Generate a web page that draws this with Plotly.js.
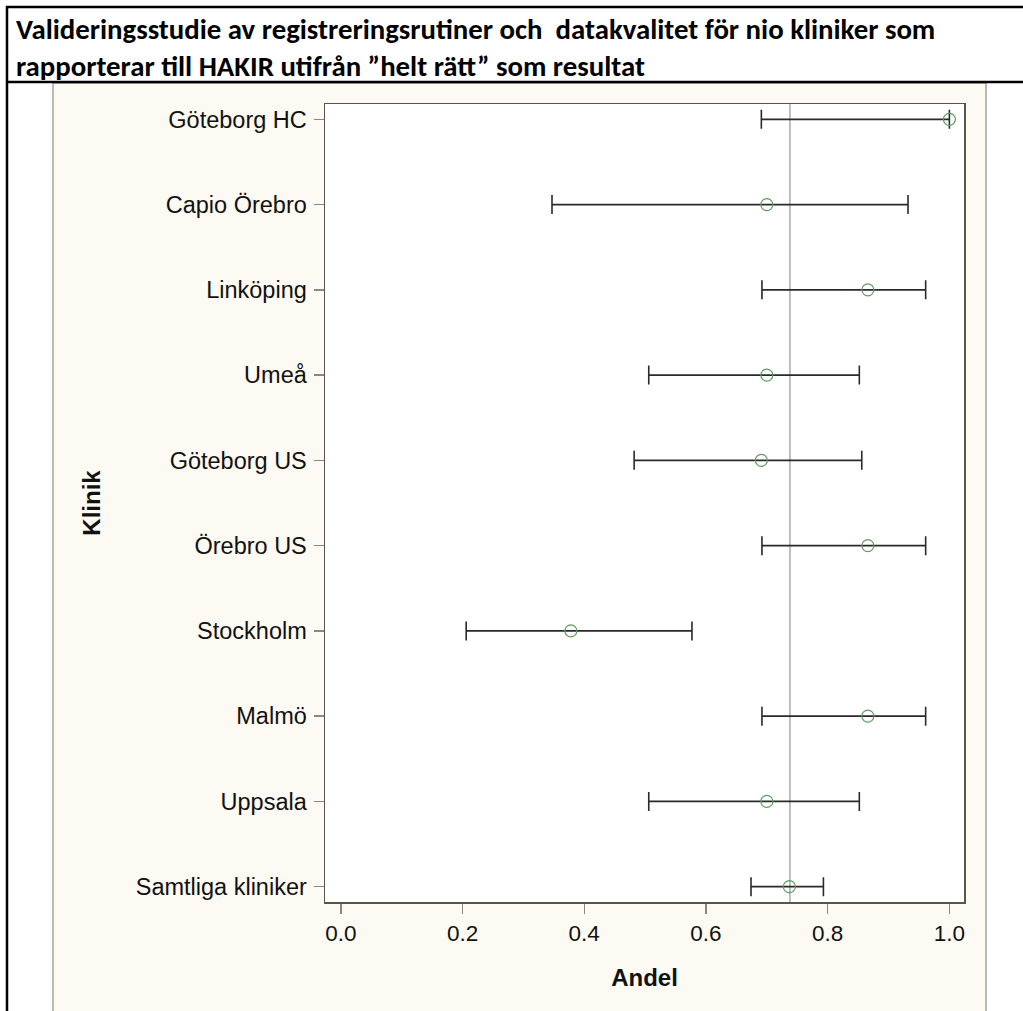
<!DOCTYPE html>
<html>
<head>
<meta charset="utf-8">
<script src="https://cdn.plot.ly/plotly-3.0.1.min.js"></script>
<style>
html,body{margin:0;padding:0;background:#fff;}
#chart{width:1023px;height:1011px;}
</style>
</head>
<body>
<div id="chart"></div>
<script>
// Categories, top to bottom as drawn
const clinics = ["Göteborg HC","Capio Örebro","Linköping","Umeå","Göteborg US","Örebro US","Stockholm","Malmö","Uppsala","Samtliga kliniker"];
// Proportion "helt rätt" and confidence limits
const andel  = [1.000, 0.700, 0.866, 0.700, 0.691, 0.866, 0.378, 0.866, 0.700, 0.737];
const lower  = [0.691, 0.347, 0.692, 0.506, 0.482, 0.692, 0.206, 0.692, 0.506, 0.674];
const upper  = [1.000, 0.932, 0.961, 0.852, 0.856, 0.961, 0.577, 0.961, 0.852, 0.793];
const refLine = 0.738;
const xTicks = [0.0, 0.2, 0.4, 0.6, 0.8, 1.0];
const xTickText = ["0.0","0.2","0.4","0.6","0.8","1.0"];

const W = 1023, H = 1011;
const plotL = 325, plotR = 964, plotT = 104, plotB = 902;
const px = v => (v - plotL) / (plotR - plotL);
const py = v => (plotB - v) / (plotB - plotT);

const trace = {
  type: 'scatter',
  mode: 'markers',
  x: andel,
  y: clinics,
  marker: {symbol: 'circle-open', size: 12, color: '#5f9c60', line: {width: 1.2, color: '#5f9c60'}},
  error_x: {
    type: 'data', symmetric: false,
    array: upper.map((u, i) => u - andel[i]),
    arrayminus: lower.map((l, i) => andel[i] - l),
    color: '#2a2a2a', thickness: 1.6, width: 9.5
  },
  hoverinfo: 'skip',
  cliponaxis: false
};

const titleFont = "Carlito, 'Liberation Sans Narrow', 'Liberation Sans', sans-serif";
const axFont = "'Liberation Sans', Arial, sans-serif";

const layout = {
  width: W, height: H,
  margin: {l: plotL, r: W - plotR, t: plotT, b: H - plotB, pad: 0},
  paper_bgcolor: '#ffffff',
  plot_bgcolor: '#ffffff',
  showlegend: false,
  font: {family: axFont, color: '#111', size: 22},
  xaxis: {
    range: [-0.026, 1.024],
    tickvals: xTicks, ticktext: xTickText,
    ticks: 'outside', ticklen: 10, tickcolor: '#8c877c', tickwidth: 1.5,
    showgrid: false, zeroline: false,
    showline: true, mirror: true, linecolor: '#5a554b', linewidth: 1.5,
    tickfont: {family: axFont, size: 22.5, color: '#111'},
    title: {text: '<b>Andel</b>', font: {family: axFont, size: 24, color: '#111'}, standoff: 24}
  },
  yaxis: {
    categoryorder: 'array', categoryarray: clinics.slice().reverse(),
    range: [-0.18, 9.18],
    ticks: 'outside', ticklen: 10, tickcolor: '#8c877c', tickwidth: 1.5,
    ticklabelstandoff: 2,
    showgrid: false, zeroline: false,
    showline: true, mirror: true, linecolor: '#5a554b', linewidth: 1.5,
    tickfont: {family: axFont, size: 23.5, color: '#111'},
    title: {text: '<b>Klinik</b>', font: {family: axFont, size: 24, color: '#111'}, standoff: 28}
  },
  shapes: [
    // cream panel
    {type: 'rect', xref: 'paper', yref: 'paper', layer: 'below',
     x0: px(53), x1: px(986), y0: py(1015), y1: py(83),
     fillcolor: '#fdfaf3', line: {color: '#a8a49a', width: 1.5}},
    // white plot area
    {type: 'rect', xref: 'paper', yref: 'paper', layer: 'below',
     x0: 0, x1: 1, y0: 0, y1: 1, fillcolor: '#ffffff', line: {width: 0}},
    // black frame: top, left, title separator
    {type: 'line', xref: 'paper', yref: 'paper', x0: px(6), x1: px(1030), y0: py(7), y1: py(7), line: {color: '#000', width: 2.5}},
    {type: 'line', xref: 'paper', yref: 'paper', x0: px(7), x1: px(7), y0: py(6), y1: py(1015), line: {color: '#000', width: 2.5}},
    {type: 'line', xref: 'paper', yref: 'paper', x0: px(6), x1: px(1030), y0: py(82), y1: py(82), line: {color: '#000', width: 2.5}},
    // reference line
    {type: 'line', xref: 'x', yref: 'paper', x0: refLine, x1: refLine, y0: 0, y1: 1, layer: 'below',
     line: {color: '#a9a9a9', width: 1.5}}
  ],
  annotations: [
    {xref: 'paper', yref: 'paper', x: px(14), y: py(48), xanchor: 'left', yanchor: 'middle',
     align: 'left', showarrow: false,
     text: '<b>Valideringsstudie av registreringsrutiner och \u00a0datakvalitet för nio kliniker som<br>rapporterar till HAKIR utifrån ”helt rätt” som resultat</b>',
     font: {family: titleFont, size: 28.8, color: '#000'}}
  ]
};

Plotly.newPlot('chart', [trace], layout, {displayModeBar: false, staticPlot: true});
</script>
</body>
</html>
